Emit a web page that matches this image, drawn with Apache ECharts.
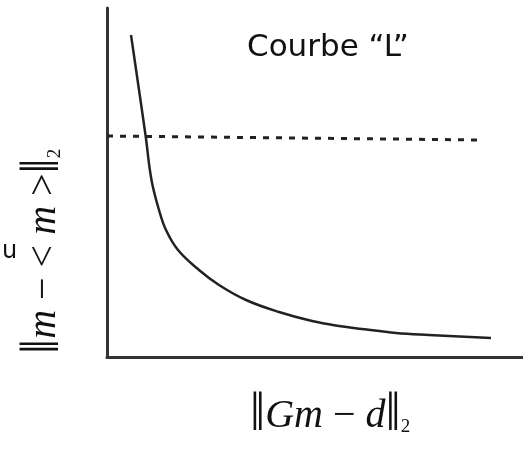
<!DOCTYPE html>
<html>
<head>
<meta charset="utf-8">
<script src="https://cdn.jsdelivr.net/npm/echarts@6/dist/echarts.min.js"></script>
<style>
  html, body { margin: 0; padding: 0; background: #fff; }
  #chart { width: 523px; height: 449px; }
</style>
</head>
<body>
<div id="chart"></div>
<script>
// curve (arbitrary units)
const curveX = [24, 38.5, 44.5, 52, 59, 71, 92, 112, 139, 172, 205, 232, 255, 289, 322, 384]
const curveY = [322, 222, 177, 147, 127, 107, 87, 72, 57, 45, 36, 31, 28, 24, 22, 19]
// dashed reference level
const levelX = [0, 375]
const levelY = [221, 217]

const myChart = echarts.init(document.getElementById('chart'))

const labelRich = {
  b: { font: '54px "Liberation Serif"', fill: '#111' },
  n: { font: '40px "Liberation Serif"', fill: '#111' },
  i: { font: 'italic 40px "Liberation Serif"', fill: '#111' },
  s: { font: '19px "Liberation Serif"', fill: '#111', padding: [22, 0, 0, 0] }
}

const option = {
  animation: false,
  grid: {
    left: 107,
    right: 0,
    top: 8,
    bottom: 92
  },
  xAxis: {
    type: 'value',
    min: 0,
    max: 416,
    axisLine: { show: true, lineStyle: { color: '#333', width: 3 } },
    axisTick: { show: false },
    axisLabel: { show: false },
    splitLine: { show: false }
  },
  yAxis: {
    type: 'value',
    min: 0,
    max: 349,
    axisLine: { show: true, lineStyle: { color: '#333', width: 3 } },
    axisTick: { show: false },
    axisLabel: { show: false },
    splitLine: { show: false }
  },
  series: [
    {
      type: 'line',
      data: curveX.map((x, i) => [x, curveY[i]]),
      smooth: 0.4,
      showSymbol: false,
      lineStyle: { color: '#222', width: 2.5 }
    },
    {
      type: 'line',
      data: levelX.map((x, i) => [x, levelY[i]]),
      showSymbol: false,
      lineStyle: { color: '#222', width: 3, type: [6, 7] }
    }
  ],
  graphic: [
    {
      type: 'text',
      left: 247,
      top: 32,
      style: {
        text: 'Courbe “L”',
        font: '31px "DejaVu Sans"',
        fill: '#111'
      }
    },
    {
      type: 'text',
      left: 250,
      top: 389,
      style: {
        text: '{b|‖}{i|Gm}{n| − }{i|d}{b|‖}{s|2}',
        fill: '#111',
        rich: labelRich
      }
    },
    {
      type: 'text',
      x: 17,
      y: 354,
      rotation: Math.PI / 2,
      style: {
        text: '{b|‖}{i|m}{n| − < }{i|m}{n| >}{b|‖}{s|2}',
        fill: '#111',
        rich: labelRich
      }
    },
    {
      type: 'text',
      left: 2,
      top: 240,
      style: {
        text: 'u',
        font: '24px "DejaVu Sans"',
        fill: '#111'
      }
    }
  ]
}
myChart.setOption(option)
</script>
</body>
</html>
